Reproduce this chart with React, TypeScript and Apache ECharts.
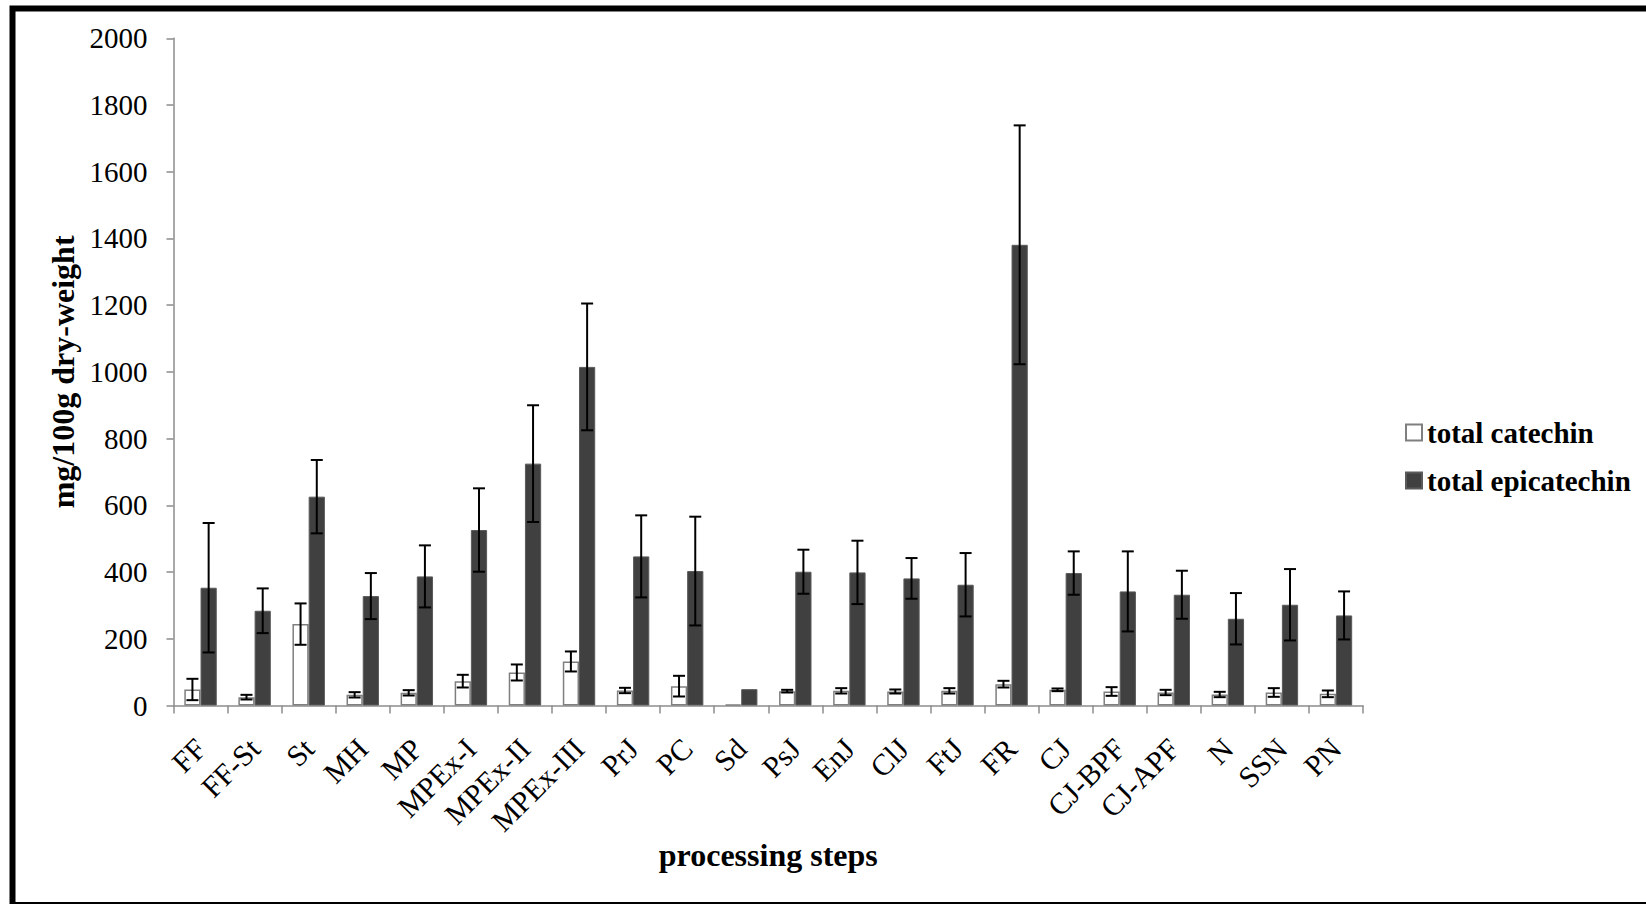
import React, { useEffect, useRef } from "react";
import * as echarts from "echarts";

// Processing steps along the x axis
const steps = [
  "FF", "FF-St", "St", "MH", "MP", "MPEx-I", "MPEx-II", "MPEx-III", "PrJ", "PC", "Sd",
  "PsJ", "EnJ", "ClJ", "FtJ", "FR", "CJ", "CJ-BPF", "CJ-APF", "N", "SSN", "PN",
];

// total catechin, mg/100g dry-weight (mean and standard deviation)
const catechinMean = [48, 25, 244, 32, 38, 73, 99, 132, 45, 58, 3, 43, 44, 42, 44, 64, 47, 42, 39, 33, 39, 35];
const catechinSd = [32, 7, 62, 8, 8, 19, 24, 30, 8, 31, 0, 4, 8, 6, 8, 10, 4, 13, 8, 8, 13, 10];

// total epicatechin, mg/100g dry-weight (mean and standard deviation)
const epicatechinMean = [353, 284, 626, 328, 387, 526, 725, 1015, 447, 403, 49, 401, 399, 381, 362, 1381, 397, 342, 332, 260, 302, 270];
const epicatechinSd = [194, 67, 110, 69, 93, 125, 175, 190, 123, 163, 0, 66, 95, 61, 95, 358, 65, 120, 72, 77, 107, 72];

const yTicks = { min: 0, max: 2000, interval: 200 };

const FONT = "Liberation Serif, Times New Roman, serif";
const AXIS_GRAY = "#8c8c8c";

// Mean ± SD whiskers, shifted onto the left (-1) or right (+1) bar of each group
function errorBarSeries(name: string, means: number[], sds: number[], side: number) {
  return {
    type: "custom",
    name,
    z: 10,
    silent: true,
    encode: { x: 0, y: 1 },
    data: means.map((m, i) => [i, m, sds[i]]),
    renderItem: (params: any, api: any) => {
      const idx = api.value(0);
      const mean = api.value(1);
      const sd = api.value(2);
      if (!sd) return { type: "group", children: [] };
      const band = api.size([1, 0])[0];
      const dx = side * band * 0.15;
      const top = api.coord([idx, mean + sd]);
      const bot = api.coord([idx, mean - sd]);
      const x = top[0] + dx;
      const half = 6;
      const style = { stroke: "#000", lineWidth: 2 };
      return {
        type: "group",
        children: [
          { type: "line", shape: { x1: x, y1: top[1], x2: x, y2: bot[1] }, style },
          { type: "line", shape: { x1: x - half, y1: top[1], x2: x + half, y2: top[1] }, style },
          { type: "line", shape: { x1: x - half, y1: bot[1], x2: x + half, y2: bot[1] }, style },
        ],
      };
    },
  };
}

export default function App() {
  const ref = useRef<HTMLDivElement>(null);

  useEffect(() => {
    if (!ref.current) return;
    const chart = echarts.init(ref.current, undefined, { renderer: "svg" });
    chart.setOption({
      animation: false,
      backgroundColor: "#fff",
      textStyle: { fontFamily: FONT },
      grid: { left: 173.5, right: 283, top: 38.3, bottom: 198.5, containLabel: false },
      legend: {
        data: ["total catechin", "total epicatechin"],
        orient: "vertical",
        left: 1400,
        top: 413,
        itemWidth: 16,
        itemHeight: 16,
        itemGap: 19,
        icon: "rect",
        textStyle: { fontFamily: FONT, fontWeight: "bold", fontSize: 29, lineHeight: 29, color: "#000" },
      },
      xAxis: {
        type: "category",
        data: steps,
        name: "processing steps",
        nameLocation: "middle",
        nameGap: 133,
        nameMoveOverlap: false,
        nameTextStyle: { fontFamily: FONT, fontWeight: "bold", fontSize: 32, color: "#000" },
        axisLine: { lineStyle: { color: AXIS_GRAY, width: 1.5 } },
        axisTick: { show: true, length: 8, alignWithLabel: false, lineStyle: { color: AXIS_GRAY, width: 1.5 } },
        axisLabel: {
          interval: 0,
          rotate: 45,
          margin: 38,
          padding: [12, 0, 0, 0],
          fontFamily: FONT,
          fontSize: 30,
          color: "#000",
        },
        splitLine: { show: false },
      },
      yAxis: {
        type: "value",
        min: yTicks.min,
        max: yTicks.max,
        interval: yTicks.interval,
        name: "mg/100g dry-weight",
        nameLocation: "middle",
        nameGap: 95,
        nameMoveOverlap: false,
        nameTextStyle: { fontFamily: FONT, fontWeight: "bold", fontSize: 32, color: "#000" },
        axisLine: { show: true, lineStyle: { color: AXIS_GRAY, width: 1.5 } },
        axisTick: { show: true, length: 7, lineStyle: { color: AXIS_GRAY, width: 1.5 } },
        axisLabel: {
          margin: 26,
          fontFamily: FONT,
          fontSize: 29,
          color: "#000",
          formatter: (v: number) => String(v),
        },
        splitLine: { show: false },
      },
      series: [
        {
          type: "bar",
          name: "total catechin",
          data: catechinMean,
          barWidth: "30%",
          barGap: "0%",
          itemStyle: { color: "#fff", borderColor: "#7f7f7f", borderWidth: 1.5 },
        },
        {
          type: "bar",
          name: "total epicatechin",
          data: epicatechinMean,
          barWidth: "30%",
          barGap: "0%",
          itemStyle: { color: "#404040", borderColor: "#5a5a5a", borderWidth: 1 },
        },
        errorBarSeries("catechin SD", catechinMean, catechinSd, -1),
        errorBarSeries("epicatechin SD", epicatechinMean, epicatechinSd, 1),
      ],
      graphic: [
        {
          type: "rect",
          silent: true,
          z: 100,
          shape: { x: 12.5, y: 8.5, width: 1700, height: 896.5 },
          style: { fill: "none", stroke: "#000", lineWidth: 6 },
        },
      ],
    });
    return () => chart.dispose();
  }, []);

  return (
    <div
      ref={ref}
      style={{ position: "fixed", left: 0, top: 0, width: 1646, height: 904, background: "#fff" }}
    />
  );
}
